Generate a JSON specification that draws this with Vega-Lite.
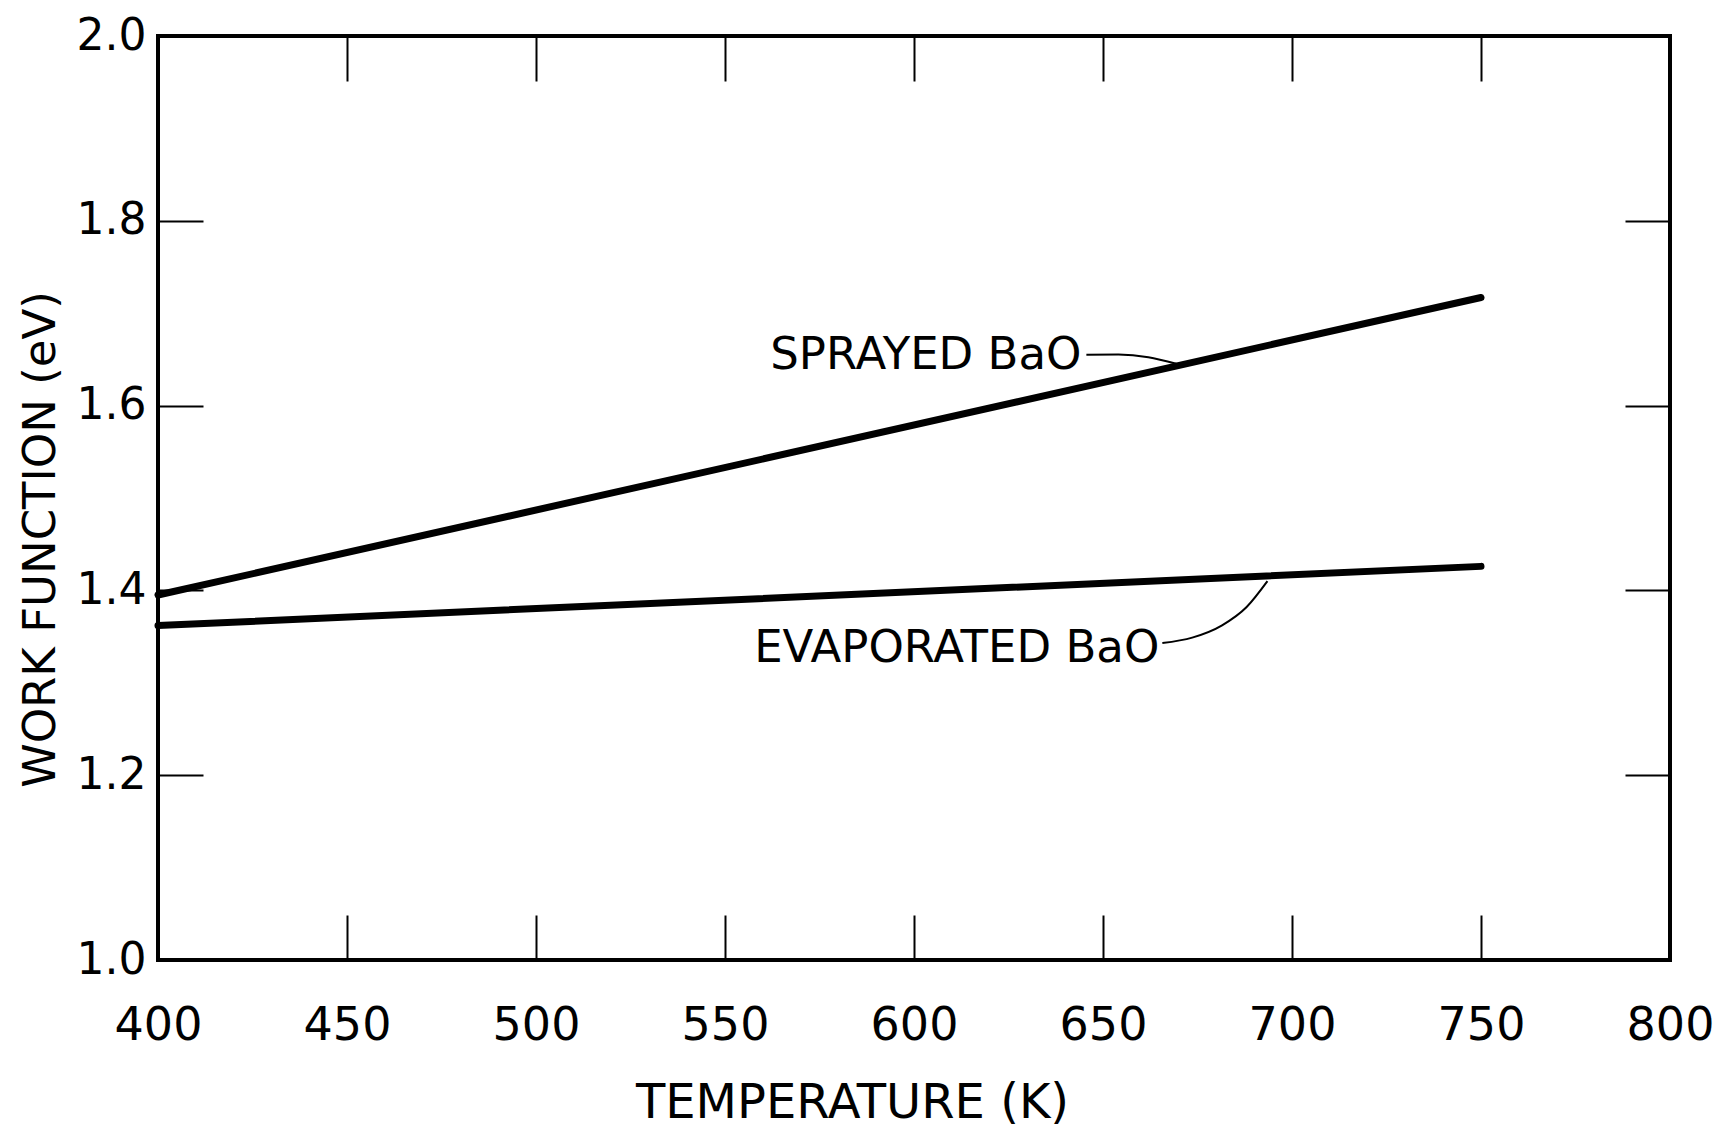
{
  "$schema": "https://vega.github.io/schema/vega-lite/v6.json",
  "width": 1512,
  "height": 924,
  "autosize": {"type": "none"},
  "padding": {"left": 158, "top": 36, "right": 60, "bottom": 172},
  "background": "white",
  "config": {
    "font": "DejaVu Sans",
    "view": {"stroke": "black", "strokeWidth": 4},
    "axis": {
      "labelColor": "black",
      "titleColor": "black",
      "tickColor": "black",
      "tickWidth": 2,
      "grid": false,
      "domain": false,
      "labelFlush": false,
      "labelOverlap": false,
      "titleFontWeight": "normal"
    }
  },
  "layer": [
    {
      "data": {
        "values": [
          {"series": "Sprayed BaO", "temp": 400, "wf": 1.395},
          {"series": "Sprayed BaO", "temp": 750, "wf": 1.717},
          {"series": "Evaporated BaO", "temp": 400, "wf": 1.362},
          {"series": "Evaporated BaO", "temp": 750, "wf": 1.426}
        ]
      },
      "mark": {"type": "line", "color": "black", "strokeWidth": 7, "strokeCap": "round"},
      "encoding": {
        "x": {
          "field": "temp", "type": "quantitative",
          "scale": {"domain": [400, 800], "nice": false, "zero": false},
          "axis": {
            "orient": "bottom",
            "values": [400, 450, 500, 550, 600, 650, 700, 750, 800],
            "tickSize": -45,
            "labelFontSize": 46,
            "labelPadding": 88,
            "title": "TEMPERATURE (K)",
            "titleFontSize": 48,
            "titleX": 694,
            "titleY": 143,
            "titleBaseline": "middle",
            "titleAlign": "center"
          }
        },
        "y": {
          "field": "wf", "type": "quantitative",
          "scale": {"domain": [1.0, 2.0], "nice": false, "zero": false},
          "axis": {
            "orient": "left",
            "values": [1.0, 1.2, 1.4, 1.6, 1.8, 2.0],
            "format": ".1f",
            "tickSize": -45,
            "labelFontSize": 44,
            "labelPadding": 57,
            "title": "WORK FUNCTION (eV)",
            "titleFontSize": 45,
            "titleAngle": -90,
            "titleX": -118,
            "titleY": 503,
            "titleBaseline": "middle",
            "titleAlign": "center"
          }
        },
        "detail": {"field": "series"}
      }
    },
    {
      "data": {
        "values": [
          {"leader": "Sprayed BaO", "temp": 645.6, "wf": 1.655},
          {"leader": "Sprayed BaO", "temp": 654.1, "wf": 1.6552},
          {"leader": "Sprayed BaO", "temp": 662.0, "wf": 1.6524},
          {"leader": "Sprayed BaO", "temp": 669.4, "wf": 1.6453},
          {"leader": "Evaporated BaO", "temp": 665.7, "wf": 1.343},
          {"leader": "Evaporated BaO", "temp": 673.6, "wf": 1.3489},
          {"leader": "Evaporated BaO", "temp": 681.5, "wf": 1.3622},
          {"leader": "Evaporated BaO", "temp": 688.0, "wf": 1.382},
          {"leader": "Evaporated BaO", "temp": 693.5, "wf": 1.41}
        ]
      },
      "mark": {"type": "line", "color": "black", "strokeWidth": 2, "interpolate": "monotone"},
      "encoding": {
        "x": {
          "field": "temp", "type": "quantitative",
          "axis": {
            "orient": "top",
            "values": [450, 500, 550, 600, 650, 700, 750],
            "tickSize": -45,
            "labels": false,
            "title": null
          }
        },
        "y": {
          "field": "wf", "type": "quantitative",
          "axis": {
            "orient": "right",
            "values": [1.2, 1.4, 1.6, 1.8],
            "tickSize": -45,
            "labels": false,
            "title": null
          }
        },
        "detail": {"field": "leader"}
      }
    },
    {
      "data": {
        "values": [
          {"label": "SPRAYED BaO", "temp": 644.3, "wf": 1.6547},
          {"label": "EVAPORATED BaO", "temp": 664.9, "wf": 1.3375}
        ]
      },
      "mark": {"type": "text", "align": "right", "baseline": "middle", "fontSize": 45, "color": "black"},
      "encoding": {
        "x": {"field": "temp", "type": "quantitative", "axis": null},
        "y": {"field": "wf", "type": "quantitative", "axis": null},
        "text": {"field": "label"}
      }
    }
  ]
}
